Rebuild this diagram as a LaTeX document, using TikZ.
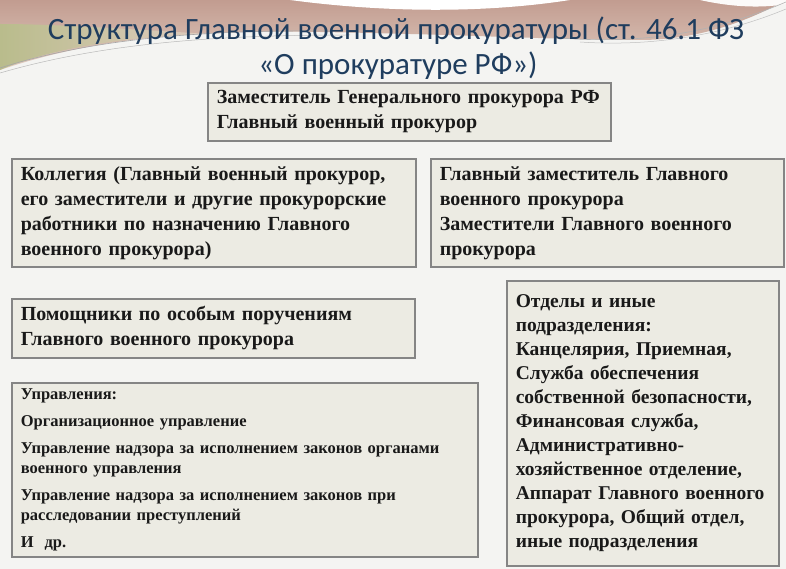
\documentclass[tikz,border=0pt]{standalone}
\usepackage{fontspec}
\setmainfont{Liberation Serif}
\newfontfamily\titlefont{Carlito}
\definecolor{titleblue}{HTML}{1F3D5E}
\definecolor{boxfill}{HTML}{ECEBE3}
\definecolor{boxline}{HTML}{858585}
\definecolor{pagebg}{HTML}{F4F4F2}
\definecolor{bandpink}{HTML}{C29C90}
\definecolor{bandlight}{HTML}{E0CCC0}
\definecolor{bandgreen}{HTML}{B9BC8C}
\tikzset{
  box/.style={draw=boxline, fill=boxfill, line width=1.6pt, anchor=north west,
    inner xsep=9pt, inner ysep=0pt, align=left, text=black!90},
  bigtext/.style={font=\fontsize{20}{25}\selectfont\bfseries},
  title/.style={font=\titlefont\fontsize{31}{36}\selectfont, text=titleblue, anchor=base},
}

\begin{document}
\begin{tikzpicture}[x=1pt,y=-1pt]
  \useasboundingbox (0,0) rectangle (786,569);
  \fill[pagebg] (0,0) rectangle (786,569);
  \shade[top color=bandpink, bottom color=bandlight] (0,0) -- (0,70) .. controls (100,36) and (200,30) .. (320,32) .. controls (450,34) and (560,40) .. (640,40) .. controls (700,40) and (750,20) .. (786,0) -- cycle;
  \shade[left color=bandgreen, right color=bandlight] (0,24) .. controls (60,24) and (140,30) .. (210,34) .. controls (130,36) and (50,48) .. (0,70) -- cycle;
  \fill[white] (290,0) .. controls (380,12) and (480,14) .. (570,0) -- cycle;
  \fill[white!90!bandlight] (700,0) .. controls (740,9) and (770,7) .. (786,4) -- (786,0) -- cycle;
  \draw[gray!70, line width=.6pt] (0,68) .. controls (100,36) and (220,30) .. (330,31);
  \draw[gray!55, line width=.5pt] (0,73) .. controls (110,41) and (230,35) .. (350,35);
  \draw[gray!60, line width=.6pt] (560,38) .. controls (650,45) and (720,30) .. (786,2);
  \draw[gray!50, line width=.5pt] (580,42) .. controls (670,48) and (740,28) .. (786,9);

  \node[title] (title1) at (396,40) {Структура Главной военной прокуратуры (ст. 46.1 ФЗ};
  \node[title] (title2) at (398,75) {«О прокуратуре РФ»)};

  \node[box, bigtext, text width=385pt, minimum height=58pt] (chief) at (207,82)
    {Заместитель Генерального прокурора РФ\\Главный военный прокурор};
  \node[box, bigtext, text width=386pt, minimum height=108pt] (board) at (11,158)
    {Коллегия (Главный военный прокурор,\\его заместители и другие прокурорские\\работники по назначению Главного\\военного прокурора)};
  \node[box, bigtext, text width=335pt, minimum height=108pt] (deputies) at (430,158)
    {Главный заместитель Главного\\военного прокурора\\Заместители Главного военного\\прокурора};
  \node[box, bigtext, text width=385pt, minimum height=59pt] (aides) at (11,298)
    {Помощники по особым поручениям\\Главного военного прокурора};
  \node[box, font=\fontsize{19.5}{24}\selectfont\bfseries, text width=254pt, minimum height=285pt] (depts) at (506,280)
    {Отделы и иные\\подразделения:\\Канцелярия, Приемная,\\Служба обеспечения\\собственной безопасности,\\Финансовая служба,\\Административно-\\хозяйственное отделение,\\Аппарат Главного военного\\прокурора, Общий отдел,\\иные подразделения};
  \node[box, font=\fontsize{16.5}{20}\selectfont\bfseries, text width=448pt, minimum height=174pt] (boards) at (11,382)
    {Управления:\\[7pt]Организационное управление\\[7pt]Управление надзора за исполнением законов органами\\военного управления\\[7pt]Управление надзора за исполнением законов при\\расследовании преступлений\\[7pt]И~~др.};
\end{tikzpicture}
\end{document}
